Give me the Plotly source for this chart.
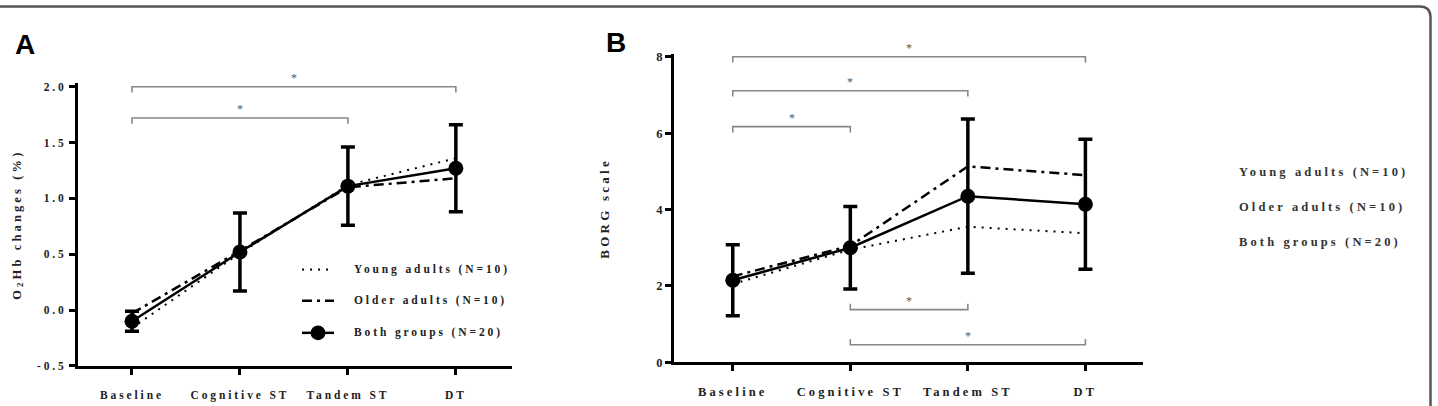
import plotly.graph_objects as go

# ---------------- data ----------------
categories = ["Baseline", "Cognitive ST", "Tandem ST", "DT"]
x_pos = [0, 1, 2, 3]

series_names = ["Young adults (N=10)", "Older adults (N=10)", "Both groups (N=20)"]

o2hb_young = [-0.16, 0.51, 1.12, 1.36]
o2hb_older = [-0.03, 0.53, 1.10, 1.18]
o2hb_both = [-0.10, 0.52, 1.11, 1.27]
o2hb_both_sd = [0.09, 0.35, 0.35, 0.39]

borg_young = [2.05, 2.95, 3.55, 3.38]
borg_older = [2.25, 3.05, 5.13, 4.90]
borg_both = [2.15, 3.00, 4.35, 4.14]
borg_both_sd = [0.93, 1.08, 2.02, 1.70]

o2hb_ticks = [-0.5, 0.0, 0.5, 1.0, 1.5, 2.0]
o2hb_ticktext = ["-0.5", "0.0", "0.5", "1.0", "1.5", "2.0"]
borg_ticks = [0, 2, 4, 6, 8]

# significance brackets: (from category index, to category index, level)
o2hb_brackets_top = [(0, 3, 2.0), (0, 2, 1.72)]
borg_brackets_top = [(0, 3, 8.0), (0, 2, 7.11), (0, 1, 6.17)]
borg_brackets_bottom = [(1, 2, 1.38), (1, 3, 0.46)]

# ---------------- styles ----------------
W, H = 1438, 406
SERIF = "Liberation Serif, Times New Roman, serif"
SANS = "Liberation Sans, Arial, sans-serif"
TXT = "#222222"
BRK = "#888888"
DOT = "2px,6px"
DASHDOT = "10px,5px,3px,5px"
fs_a, fs_b = 11.5, 12.5

fig = go.Figure()

def add_group(xa, ya, young, older, both, sd):
    fig.add_trace(go.Scatter(
        x=x_pos, y=young, mode="lines", name=series_names[0],
        line=dict(color="black", width=2, dash=DOT),
        xaxis=xa, yaxis=ya, showlegend=False,
        cliponaxis=False, hoverinfo="skip"))
    fig.add_trace(go.Scatter(
        x=x_pos, y=older, mode="lines", name=series_names[1],
        line=dict(color="black", width=2.5, dash=DASHDOT),
        xaxis=xa, yaxis=ya, showlegend=False,
        cliponaxis=False, hoverinfo="skip"))
    fig.add_trace(go.Scatter(
        x=x_pos, y=both, mode="lines+markers", name=series_names[2],
        line=dict(color="black", width=2.5),
        marker=dict(color="black", size=15, symbol="circle"),
        error_y=dict(type="data", array=sd, visible=True, color="black",
                     thickness=3.5, width=7),
        xaxis=xa, yaxis=ya, showlegend=False,
        cliponaxis=False, hoverinfo="skip"))

add_group("x", "y", o2hb_young, o2hb_older, o2hb_both, o2hb_both_sd)
add_group("x2", "y2", borg_young, borg_older, borg_both, borg_both_sd)

annotations = []

def add_brackets(xa, ya, brackets, leg, up):
    for (i, j, lvl) in brackets:
        yl = lvl + leg if up else lvl - leg
        fig.add_trace(go.Scatter(
            x=[x_pos[i], x_pos[i], x_pos[j], x_pos[j]],
            y=[yl, lvl, lvl, yl], mode="lines",
            line=dict(color=BRK, width=1.6),
            xaxis=xa, yaxis=ya, showlegend=False, cliponaxis=False,
            hoverinfo="skip"))
        annotations.append(dict(
            x=(x_pos[i] + x_pos[j]) / 2, y=lvl, xref=xa, yref=ya,
            text="*", showarrow=False, yshift=9,
            font=dict(family=SERIF, size=12, color="#555555")))

# leg length of ~6 px converted to data units
add_brackets("x", "y", o2hb_brackets_top, 6 / 114.8, False)
add_brackets("x2", "y2", borg_brackets_top, 6 / 39.25, False)
add_brackets("x2", "y2", borg_brackets_bottom, 6 / 39.25, True)

def axis_common(fs):
    return dict(
        showline=True, linewidth=3, linecolor="black",
        ticks="outside", ticklen=6, tickwidth=3, tickcolor="black",
        showgrid=False, zeroline=False,
        tickfont=dict(family=SERIF, size=fs, color=TXT, weight="bold"))

fig.update_layout(
    width=W, height=H,
    margin=dict(l=0, r=0, t=0, b=0),
    paper_bgcolor="white", plot_bgcolor="white",
    showlegend=False,
    xaxis=dict(domain=[78 / W, 512 / W], range=[-0.5, 3.52],
               tickmode="array", tickvals=x_pos, ticktext=categories,
               ticklabelstandoff=10, anchor="y", **axis_common(fs_a)),
    yaxis=dict(domain=[1 - 372 / H, 1 - 81.6 / H], range=[-0.5, 2.03],
               tickmode="array", tickvals=o2hb_ticks, ticktext=o2hb_ticktext,
               anchor="x",
               title=dict(text="O<sub>2</sub>Hb changes (%)", standoff=25,
                          font=dict(family=SERIF, size=12.5, color=TXT, weight="bold")),
               **axis_common(fs_a)),
    xaxis2=dict(domain=[674 / W, 1143 / W], range=[-0.5, 3.49],
                tickmode="array", tickvals=x_pos, ticktext=categories,
                ticklabelstandoff=10, anchor="y2", **axis_common(fs_b)),
    yaxis2=dict(domain=[1 - 368.3 / H, 1 - 51.9 / H], range=[0, 8.06],
                tickmode="array", tickvals=borg_ticks,
                anchor="x2",
                title=dict(text="BORG scale", standoff=44,
                           font=dict(family=SERIF, size=13, color=TXT, weight="bold")),
                **axis_common(fs_b)),
)

# ---------------- legend of panel A (drawn by hand) ----------------
leg_rows = [273, 305, 338]
leg_x0, leg_x1, leg_tx = 302, 334, 352
leg_dashes = [(DOT, 2), (DASHDOT, 2.5), ("solid", 2.5)]
for (dash, lw), ypx, name in zip(leg_dashes, leg_rows, series_names):
    yp = 1 - ypx / H
    fig.add_shape(type="line", xref="paper", yref="paper",
                  x0=leg_x0 / W, x1=leg_x1 / W, y0=yp, y1=yp,
                  line=dict(color="black", width=lw, dash=dash))
    annotations.append(dict(
        x=leg_tx / W, y=yp, xref="paper", yref="paper",
        xanchor="left", yanchor="middle", align="left", text=name, showarrow=False,
        font=dict(family=SERIF, size=fs_a, color=TXT, weight="bold")))
# marker of "Both groups"
r = 7.5
cx, cy = (leg_x0 + leg_x1) / 2, leg_rows[2]
fig.add_shape(type="circle", xref="paper", yref="paper",
              x0=(cx - r) / W, x1=(cx + r) / W, y0=1 - (cy + r) / H, y1=1 - (cy - r) / H,
              fillcolor="black", line=dict(color="black", width=0))

# ---------------- legend text of panel B (no symbols in the original) ----------------
for name, ypx in zip(series_names, [173, 209, 245]):
    annotations.append(dict(
        x=1237 / W, y=1 - ypx / H, xref="paper", yref="paper",
        xanchor="left", yanchor="middle", align="left", text=name, showarrow=False,
        font=dict(family=SERIF, size=fs_b, color="#333333", weight="bold")))

# panel letters
annotations.append(dict(x=13 / W, y=1 - 42 / H, xref="paper", yref="paper",
                        xanchor="left", yanchor="middle", text="A", showarrow=False,
                        font=dict(family=SANS, size=28, color="black", weight="bold")))
annotations.append(dict(x=604 / W, y=1 - 40 / H, xref="paper", yref="paper",
                        xanchor="left", yanchor="middle", text="B", showarrow=False,
                        font=dict(family=SANS, size=28, color="black", weight="bold")))

fig.update_layout(annotations=annotations)

# rounded frame (top and right edges visible)
x_r, y_t = 1430.5 / W, 1 - 2.5 / H
rx, ry = 11 / W, 11 / H
fig.add_shape(type="path", xref="paper", yref="paper",
              path=f"M -0.01,{y_t} L {x_r - rx},{y_t} Q {x_r},{y_t} {x_r},{y_t - ry} L {x_r},-0.02",
              line=dict(color="#555555", width=2.5))

post = """
var gd = document.getElementById('{plot_id}');
function spc(){
  gd.querySelectorAll('text').forEach(function(e){
    var t = (e.textContent || '').trim();
    if (t.length < 2) return;
    var fs = parseFloat(e.style.fontSize) || parseFloat(window.getComputedStyle(e).fontSize) || 10;
    e.style.letterSpacing = (0.25 * fs).toFixed(2) + 'px';
  });
}
spc();
gd.on('plotly_afterplot', spc);
"""

fig.write_html("out.html", post_script=post, config={"displayModeBar": False})
